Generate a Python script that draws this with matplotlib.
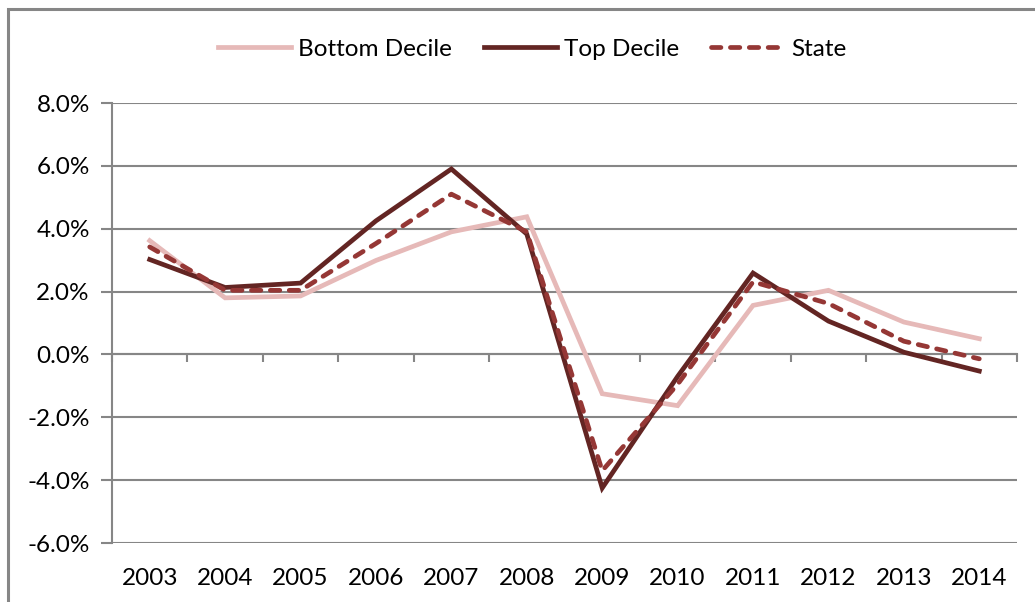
import matplotlib
matplotlib.use("Agg")
import matplotlib.pyplot as plt
from matplotlib.patches import Rectangle
from matplotlib.ticker import FixedLocator, FuncFormatter

years = ["2003", "2004", "2005", "2006", "2007", "2008",
         "2009", "2010", "2011", "2012", "2013", "2014"]
bottom_decile = [3.62, 1.80, 1.86, 2.99, 3.90, 4.38, -1.25, -1.63, 1.56, 2.04, 1.03, 0.50]
top_decile = [3.02, 2.13, 2.27, 4.25, 5.90, 3.83, -4.25, -0.70, 2.59, 1.06, 0.07, -0.53]
state = [3.42, 2.04, 2.04, 3.53, 5.10, 3.90, -3.70, -0.95, 2.31, 1.62, 0.42, -0.14]
y_ticks = [-6, -4, -2, 0, 2, 4, 6, 8]

plt.rcParams["font.family"] = ["Lato", "DejaVu Sans"]
GRID = "#868686"
FS = 17.5

fig = plt.figure(figsize=(10.35, 6.02), dpi=100)
ax = fig.add_axes([112 / 1035, 1 - 543 / 602, (1017 - 112) / 1035, (543 - 103) / 602])

x = list(range(len(years)))
lw = 3.4
ax.plot(x, bottom_decile, color="#E6B9B8", lw=lw, label="Bottom Decile",
        solid_joinstyle="miter", zorder=3)
ax.plot(x, top_decile, color="#632523", lw=lw, label="Top Decile",
        solid_joinstyle="miter", zorder=4)
ax.plot(x, state, color="#953735", lw=lw, label="State", ls=(0, (2.0, 2.0)),
        dash_capstyle="round", zorder=5)

ax.set_xlim(-0.5, len(years) - 0.5)
ax.set_ylim(-6, 8)

# horizontal gridlines
for v in y_ticks:
    ax.axhline(v, color=GRID, lw=1.5, zorder=1)

ax.spines["top"].set_visible(False)
ax.spines["right"].set_visible(False)
ax.spines["left"].set_color(GRID)
ax.spines["left"].set_linewidth(1.5)
ax.spines["bottom"].set_position(("data", 0))
ax.spines["bottom"].set_color(GRID)
ax.spines["bottom"].set_linewidth(1.5)

ax.yaxis.set_major_locator(FixedLocator(y_ticks))
ax.yaxis.set_major_formatter(FuncFormatter(lambda v, p: f"{v:.1f}%"))
ax.tick_params(axis="y", length=8, width=1.5, color=GRID, labelsize=FS, pad=8)

# category boundary ticks on the zero line
ax.set_xticks([i - 0.5 for i in range(len(years) + 1)])
ax.set_xticklabels([])
ax.tick_params(axis="x", length=6, width=1.5, color=GRID, direction="out")

# year labels along the bottom of the plot area
sec = ax.secondary_xaxis(0.0)
sec.set_xticks(x)
sec.set_xticklabels(years)
sec.tick_params(length=0, labelsize=FS, pad=18)
sec.spines["bottom"].set_visible(False)

fig.legend(loc="center", bbox_to_anchor=(0.514, 1 - 49 / 602), ncol=3,
           frameon=False, fontsize=FS, handlelength=3.0, handletextpad=0.3,
           columnspacing=1.3)

# outer chart frame
fig.patches.append(Rectangle((8 / 1035, -0.1), 1.2, 1 - 9 / 602 + 0.1,
                             transform=fig.transFigure, fill=False,
                             edgecolor=GRID, lw=2.2))

fig.savefig("out.png", dpi=100)
